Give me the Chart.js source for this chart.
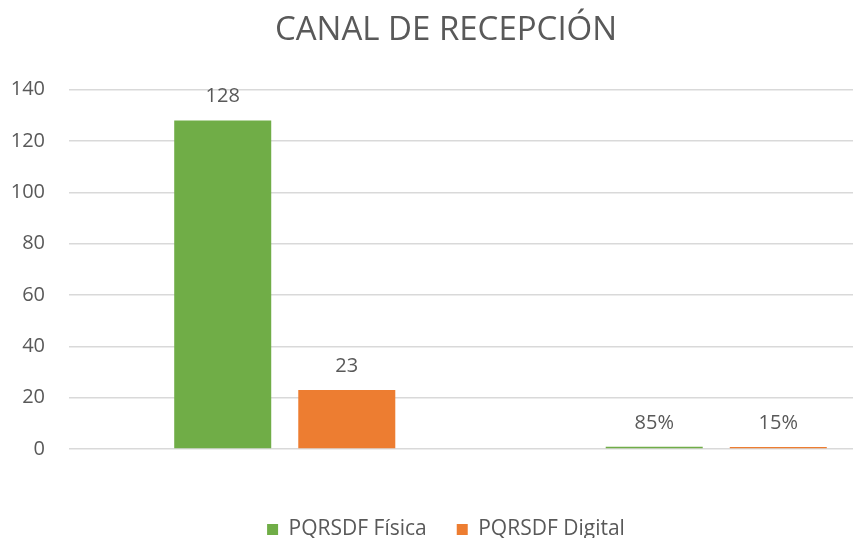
<!DOCTYPE html>
<html>
<head>
<meta charset="utf-8">
<script src="https://cdn.jsdelivr.net/npm/chart.js@4/dist/chart.umd.min.js"></script>
<style>
  html, body { margin: 0; padding: 0; background: #fff; }
  #wrap { position: relative; width: 853px; height: 538px; overflow: hidden; }
  #chart { position: absolute; left: -40px; top: 0; }
</style>
</head>
<body>
<div id="wrap">
  <canvas id="chart" width="972" height="553"></canvas>
</div>
<script>
// chart data
const categories = ['Cantidad', 'Porcentaje'];
const fisicaValues = [128, 0.85];
const digitalValues = [23, 0.15];
const fisicaLabels = ['128', '85%'];
const digitalLabels = ['23', '15%'];
const yTicks = [0, 20, 40, 60, 80, 100, 120, 140];

const textColor = '#595959';
const fontFamily = "'Open Sans', 'Liberation Sans', sans-serif";

// draws the value above each bar
const valueLabels = {
  id: 'valueLabels',
  afterDatasetsDraw(chart) {
    const ctx = chart.ctx;
    ctx.save();
    ctx.font = '20px ' + fontFamily;
    ctx.fillStyle = textColor;
    ctx.textAlign = 'center';
    ctx.textBaseline = 'alphabetic';
    chart.data.datasets.forEach(function(ds, i) {
      const meta = chart.getDatasetMeta(i);
      meta.data.forEach(function(bar, j) {
        ctx.fillText(ds.valueLabels[j], bar.x, bar.y - 18);
      });
    });
    ctx.restore();
  }
};

new Chart(document.getElementById('chart'), {
  type: 'bar',
  data: {
    labels: categories,
    datasets: [
      {
        label: 'PQRSDF Física',
        data: fisicaValues,
        valueLabels: fisicaLabels,
        backgroundColor: '#70AD47'
      },
      {
        label: 'PQRSDF Digital',
        data: digitalValues,
        valueLabels: digitalLabels,
        backgroundColor: '#ED7D31',
        minBarLength: 2
      }
    ]
  },
  options: {
    responsive: false,
    animation: false,
    layout: { padding: { left: 0, right: 0, top: 0, bottom: 3 } },
    datasets: {
      bar: { categoryPercentage: 0.575, barPercentage: 0.782 }
    },
    plugins: {
      title: {
        display: true,
        text: 'CANAL DE RECEPCIÓN',
        color: textColor,
        font: { family: fontFamily, size: 33, weight: 'normal' },
        padding: { top: 11, bottom: 39 }
      },
      legend: {
        position: 'bottom',
        labels: {
          color: textColor,
          font: { family: fontFamily, size: 21 },
          boxWidth: 11,
          boxHeight: 11,
          padding: 30
        }
      },
      tooltip: { enabled: false }
    },
    scales: {
      x: {
        ticks: { display: false },
        grid: { display: false },
        border: { display: false },
        afterFit: function(s) { s.height = 40; }
      },
      y: {
        min: 0,
        max: 140,
        afterBuildTicks: function(s) { s.ticks = yTicks.map(v => ({ value: v })); },
        ticks: {
          color: textColor,
          font: { family: fontFamily, size: 20 },
          padding: 24
        },
        grid: { color: '#D9D9D9', lineWidth: 1.5, drawTicks: false },
        border: { display: false },
        afterFit: function(s) { s.width = 109; }
      }
    }
  },
  plugins: [valueLabels]
});
</script>
</body>
</html>
